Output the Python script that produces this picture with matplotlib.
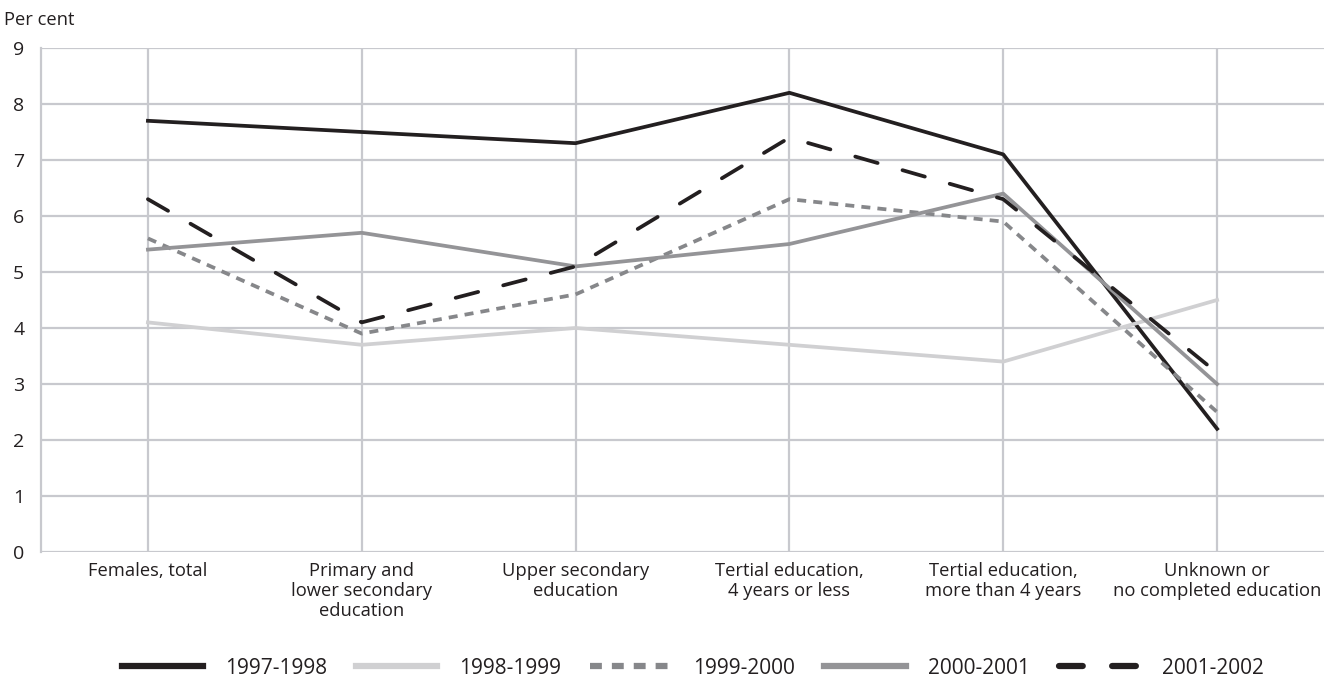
import matplotlib.pyplot as plt

categories = ["Females, total", "Primary and\nlower secondary\neducation",
              "Upper secondary\neducation", "Tertial education,\n4 years or less",
              "Tertial education,\nmore than 4 years", "Unknown or\nno completed education"]
s1997 = [7.7, 7.5, 7.3, 8.2, 7.1, 2.2]
s1998 = [4.1, 3.7, 4.0, 3.7, 3.4, 4.5]
s1999 = [5.6, 3.9, 4.6, 6.3, 5.9, 2.5]
s2000 = [5.4, 5.7, 5.1, 5.5, 6.4, 3.0]
s2001 = [6.3, 4.1, 5.1, 7.4, 6.3, 3.2]
names = ["1997-1998", "1998-1999", "1999-2000", "2000-2001", "2001-2002"]

plt.rcParams['font.family'] = ['Open Sans', 'DejaVu Sans']

fig = plt.figure(figsize=(13.37, 6.78), dpi=100)
ax = fig.add_axes([41/1337, 1 - 552/678, (1324-41)/1337, (552-48)/678])

x = range(len(categories))
ax.plot(x, s1997, color='#231f20', lw=2.7, label=names[0])
ax.plot(x, s1998, color='#d0d0d2', lw=2.7, label=names[1])
ax.plot(x, s1999, color='#86878a', lw=2.7, linestyle=(0, (2.4, 1.9)), label=names[2])
ax.plot(x, s2000, color='#949497', lw=2.7, label=names[3])
ax.plot(x, s2001, color='#231f20', lw=2.7, linestyle=(0, (6.2, 6.9)),
        dash_capstyle='round', label=names[4])

ax.set_xlim(-0.5, 5.5)
ax.set_ylim(0, 9)
ax.set_yticks(range(10))
ax.set_xticks(list(x))
ax.set_xticklabels(categories, fontsize=13.2, color='#231f20', linespacing=1.15)
ax.tick_params(axis='y', labelsize=14, colors='#231f20', length=0, pad=12)
ax.tick_params(axis='x', length=0, pad=7)
ax.grid(True, color='#c8c9ce', lw=1.6)
ax.set_axisbelow(True)
for s in ['top', 'right', 'bottom']:
    ax.spines[s].set_visible(False)
ax.spines['left'].set_color('#c8c9ce')
ax.spines['left'].set_linewidth(1.6)

fig.text(4/1337, 1 - 20/678, "Per cent", fontsize=13.2, color='#231f20', va='center')

leg = fig.legend(loc='center', bbox_to_anchor=(0.518, 1 - 668/678), ncol=5,
                 frameon=False, fontsize=15, handlelength=3.9, columnspacing=1.4,
                 handletextpad=1.05)
hl = leg.get_lines()
for h in hl:
    h.set_linewidth(4.5)
hl[2].set_linestyle((0, (1.9, 1.6)))
hl[2].set_dash_capstyle('butt')
hl[4].set_linestyle((0, (3.8, 4.7)))
hl[4].set_dash_capstyle('round')
for t in leg.get_texts():
    t.set_color('#231f20')

fig.savefig('out.png', dpi=100)
